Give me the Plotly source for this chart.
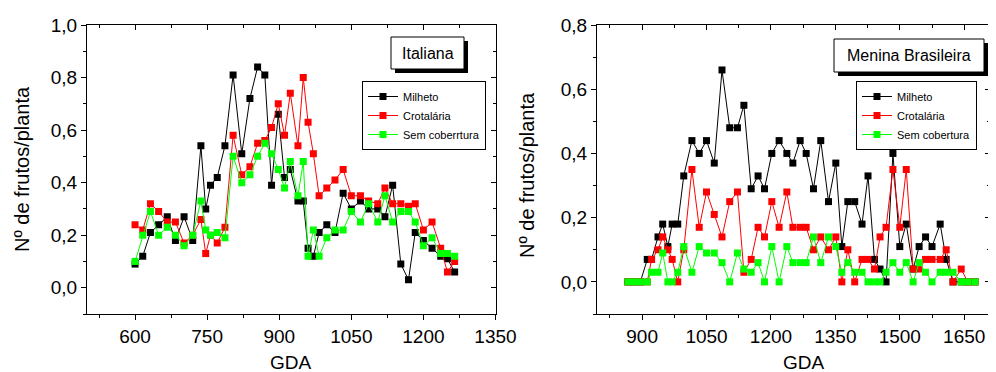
import plotly.graph_objects as go

# ---------------- data ----------------
gda_italiana = [600, 616, 632, 649, 667, 684, 702, 720, 737, 747, 757, 771, 787, 804, 822,
                839, 855, 870, 884, 898, 911, 923, 939, 950, 960, 971, 983, 999, 1016, 1033,
                1050, 1069, 1086, 1105, 1120, 1136, 1153, 1169, 1183, 1200, 1218, 1236, 1250, 1265]
milheto_italiana = [0.09, 0.12, 0.21, 0.24, 0.27, 0.18, 0.27, 0.18, 0.54, 0.30, 0.39, 0.42, 0.54, 0.81, 0.51,
                    0.72, 0.84, 0.81, 0.39, 0.66, 0.42, 0.45, 0.33, 0.33, 0.15, 0.12, 0.21, 0.24, 0.21, 0.36,
                    0.30, 0.33, 0.30, 0.30, 0.27, 0.39, 0.09, 0.03, 0.21, 0.18, 0.15, 0.12, 0.11, 0.06]
crotalaria_italiana = [0.24, 0.22, 0.32, 0.29, 0.25, 0.25, 0.17, 0.20, 0.26, 0.13, 0.20, 0.17, 0.23, 0.58, 0.43,
                       0.46, 0.55, 0.56, 0.61, 0.70, 0.58, 0.74, 0.54, 0.80, 0.63, 0.51, 0.35, 0.38, 0.41, 0.45,
                       0.35, 0.35, 0.33, 0.32, 0.38, 0.32, 0.32, 0.31, 0.32, 0.22, 0.25, 0.15, 0.06, 0.10]
sem_italiana = [0.10, 0.20, 0.29, 0.20, 0.23, 0.20, 0.16, 0.20, 0.33, 0.22, 0.20, 0.21, 0.19, 0.50, 0.40,
                0.43, 0.50, 0.55, 0.51, 0.45, 0.38, 0.48, 0.35, 0.48, 0.12, 0.22, 0.12, 0.19, 0.22, 0.22,
                0.29, 0.25, 0.32, 0.25, 0.35, 0.25, 0.29, 0.29, 0.25, 0.16, 0.19, 0.13, 0.13, 0.12]

gda_menina = [867, 881, 896, 912, 922, 937, 948, 960, 970, 983, 997, 1016, 1033, 1050, 1068,
              1086, 1104, 1122, 1137, 1154, 1170, 1185, 1202, 1219, 1237, 1251, 1268, 1282, 1299, 1316,
              1334, 1351, 1365, 1379, 1395, 1412, 1426, 1441, 1454, 1468, 1484, 1500, 1515, 1531, 1545,
              1560, 1575, 1594, 1608, 1624, 1643, 1658, 1675]
milheto_menina = [0, 0, 0, 0.07, 0.07, 0.14, 0.18, 0.11, 0.18, 0.18, 0.33, 0.44, 0.40, 0.44, 0.37,
                  0.66, 0.48, 0.48, 0.55, 0.29, 0.33, 0.29, 0.40, 0.44, 0.40, 0.37, 0.44, 0.40, 0.29, 0.44,
                  0.25, 0.37, 0.11, 0.25, 0.25, 0.18, 0.33, 0.07, 0.04, 0.00, 0.40, 0.11, 0.18, 0.04, 0.11,
                  0.14, 0.11, 0.18, 0.07, 0.00, 0, 0, 0]
crotalaria_menina = [0, 0, 0, 0, 0.07, 0.10, 0.14, 0.10, 0.07, 0.00, 0.10, 0.35, 0.17, 0.28, 0.21,
                     0.14, 0.25, 0.28, 0.03, 0.07, 0.17, 0.14, 0.25, 0.17, 0.28, 0.17, 0.17, 0.17, 0.10, 0.14,
                     0.10, 0.14, 0.00, 0.10, 0.00, 0.07, 0.07, 0.04, 0.14, 0.17, 0.35, 0.17, 0.35, 0.04, 0.04,
                     0.07, 0.07, 0.07, 0.10, 0.00, 0.04, 0, 0]
sem_menina = [0, 0, 0, 0, 0.03, 0.03, 0.09, 0.00, 0.00, 0.03, 0.11, 0.03, 0.11, 0.09, 0.09,
              0.06, 0.00, 0.09, 0.04, 0.03, 0.06, 0.00, 0.11, 0.00, 0.11, 0.06, 0.06, 0.06, 0.14, 0.06,
              0.14, 0.11, 0.03, 0.06, 0.03, 0.03, 0.00, 0.00, 0.00, 0.03, 0.06, 0.03, 0.06, 0.00, 0.06,
              0.03, 0.00, 0.03, 0.03, 0.03, 0, 0, 0]

names_left = ["Milheto", "Crotalária", "Sem coberrtura"]
names_right = ["Milheto", "Crotalária", "Sem cobertura"]
colors = ["#000000", "#FF0000", "#00FF00"]
panel_titles = ["Italiana", "Menina Brasileira"]
y_title = "Nº de frutos/planta"
x_title = "GDA"

# ---------------- figure ----------------
# page body has an 8px margin, so the figure is 8px smaller and window coords are shifted
OFF = 8
W, H = 996 - OFF, 372 - OFF
FONT = "Liberation Sans, Arial, sans-serif"

def px(x):
    return (x - OFF) / W

def py(y):
    return 1 - (y - OFF) / H

fig = go.Figure()

left_series = [milheto_italiana, crotalaria_italiana, sem_italiana]
right_series = [milheto_menina, crotalaria_menina, sem_menina]

for name, vals, col in zip(names_left, left_series, colors):
    fig.add_trace(go.Scatter(x=gda_italiana, y=vals, name=name, mode="lines+markers",
                             line=dict(color=col, width=1),
                             marker=dict(symbol="square", size=7, color=col),
                             xaxis="x", yaxis="y", legend="legend"))
for name, vals, col in zip(names_right, right_series, colors):
    fig.add_trace(go.Scatter(x=gda_menina, y=vals, name=name, mode="lines+markers",
                             line=dict(color=col, width=1),
                             marker=dict(symbol="square", size=7, color=col),
                             xaxis="x2", yaxis="y2", legend="legend2"))

# dummy traces for mirrored inside ticks
for xa, ya in (("x3", "y3"), ("x4", "y4")):
    fig.add_trace(go.Scatter(x=[None], y=[None], xaxis=xa, yaxis=ya, showlegend=False,
                             hoverinfo="skip"))

dom_l = [px(87), px(495.5)]
dom_r = [px(597), px(990)]
dom_y = [py(314), py(25)]

tickfont = dict(family=FONT, size=19, color="black")

def xax(dom, rng, anchor):
    return dict(domain=dom, range=rng, anchor=anchor, showline=True, linecolor="black", linewidth=1,
                mirror=True, ticks="outside", ticklen=5, tickcolor="black", tick0=0, dtick=150,
                tickformat="d", minor=dict(ticks="outside", ticklen=3, dtick=75, tickcolor="black"),
                showgrid=False, zeroline=False, tickfont=tickfont, automargin=False)

def yax(rng, anchor):
    return dict(domain=dom_y, range=rng, anchor=anchor, showline=True, linecolor="black", linewidth=1,
                mirror=True, ticks="outside", ticklen=5, tickcolor="black", tick0=0, dtick=0.2,
                tickformat=".1f", minor=dict(ticks="outside", ticklen=3, dtick=0.1, tickcolor="black"),
                showgrid=False, zeroline=False, tickfont=tickfont, automargin=False)

def xin(over, rng, anchor):
    return dict(overlaying=over, side="top", anchor=anchor, range=rng, showline=False,
                ticks="inside", ticklen=5, tickcolor="black", tick0=0, dtick=150,
                minor=dict(ticks="inside", ticklen=3, dtick=75, tickcolor="black"),
                showticklabels=False, showgrid=False, zeroline=False)

def yin(over, rng, anchor):
    return dict(overlaying=over, side="right", anchor=anchor, range=rng, showline=False,
                ticks="inside", ticklen=5, tickcolor="black", tick0=0, dtick=0.2,
                minor=dict(ticks="inside", ticklen=3, dtick=0.1, tickcolor="black"),
                showticklabels=False, showgrid=False, zeroline=False)

xr_l = [500, 1350]
xr_r = [795, 1710]
yr_l = [-0.1, 1.0]
yr_r = [-0.1, 0.8]

legend_common = dict(xanchor="left", yanchor="top", bgcolor="white", bordercolor="black",
                     borderwidth=1, font=dict(family=FONT, size=11, color="black"),
                     tracegroupgap=0, itemwidth=30)

fig.update_layout(
    width=W, height=H,
    margin=dict(l=0, r=0, t=0, b=0),
    paper_bgcolor="white", plot_bgcolor="white",
    separators=",.",
    font=dict(family=FONT, color="black"),
    xaxis=xax(dom_l, xr_l, "y"),
    yaxis=yax(yr_l, "x"),
    xaxis2=xax(dom_r, xr_r, "y2"),
    yaxis2=yax(yr_r, "x2"),
    xaxis3=xin("x", xr_l, "y3"),
    yaxis3=yin("y", yr_l, "x3"),
    xaxis4=xin("x2", xr_r, "y4"),
    yaxis4=yin("y2", yr_r, "x4"),
    legend=dict(x=px(362), y=py(81), **legend_common),
    legend2=dict(x=px(856), y=py(81), **legend_common),
    showlegend=True,
)

# panel title boxes with drop shadow
boxes = [((391, 37, 464, 69), panel_titles[0]), ((834, 39, 984, 72), panel_titles[1])]
for (x0, y0, x1, y1), txt in boxes:
    fig.add_shape(type="rect", xref="paper", yref="paper", x0=px(x0 + 4), x1=px(x1 + 4),
                  y0=py(y1 + 4), y1=py(y0 + 4), fillcolor="black", line=dict(width=0), layer="above")
    fig.add_shape(type="rect", xref="paper", yref="paper", x0=px(x0), x1=px(x1),
                  y0=py(y1), y1=py(y0), fillcolor="white", line=dict(color="black", width=1),
                  layer="above")
    fig.add_annotation(x=px((x0 + x1) / 2), y=py((y0 + y1) / 2), xref="paper", yref="paper",
                       text=txt, showarrow=False, font=dict(family=FONT, size=16, color="black"),
                       xanchor="center", yanchor="middle")

# axis titles
for xc, yc in ((22, 169), (527, 175)):
    fig.add_annotation(x=px(xc), y=py(yc), xref="paper", yref="paper", text=y_title,
                       textangle=-90, showarrow=False, xanchor="center", yanchor="middle",
                       font=dict(family=FONT, size=20, color="black"))
for xc in (291, 804):
    fig.add_annotation(x=px(xc), y=py(362), xref="paper", yref="paper", text=x_title,
                       showarrow=False, xanchor="center", yanchor="middle",
                       font=dict(family=FONT, size=19, color="black"))

fig.write_html("out.html")
